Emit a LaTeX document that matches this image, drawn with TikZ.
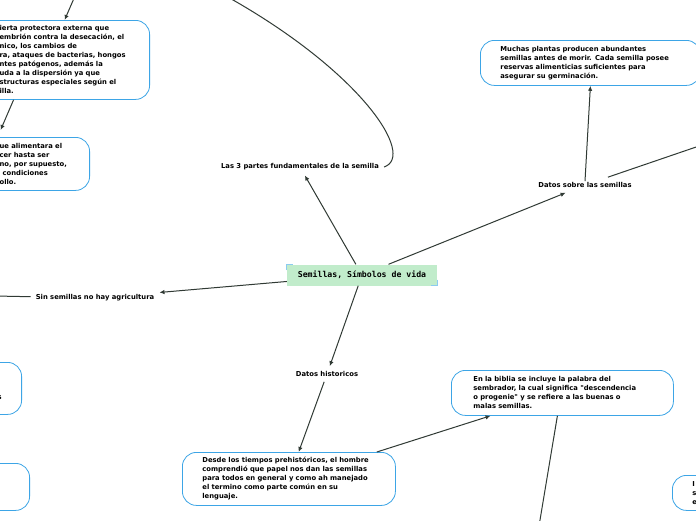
\documentclass[tikz,border=0pt]{standalone}
\usepackage{fontspec}
\setmainfont{DejaVu Sans}[Ligatures=TeXOff]
\newfontfamily\monofont{DejaVu Sans Mono}
\usepackage{xcolor}
\usetikzlibrary{arrows.meta}
\definecolor{boxblue}{HTML}{3DA5E6}
\definecolor{markblue}{HTML}{8CCBF0}
\definecolor{linkgray}{HTML}{303A34}
\definecolor{rootgreen}{HTML}{C1ECCB}

\begin{document}
\begin{tikzpicture}[
  x=1pt,y=-1pt,
  font=\bfseries\fontsize{6.8}{9}\selectfont,
  box/.style={draw=boxblue,line width=0.8pt,rounded corners=14pt,align=left,inner xsep=20pt,inner ysep=3pt},
  topic/.style={inner sep=5pt},
  root/.style={fill=rootgreen,minimum width=150pt,minimum height=21pt,font=\monofont\bfseries\fontsize{8.2}{10}\selectfont},
  arrow/.style={-{Latex[length=5pt,width=4.5pt]},linkgray,line width=1pt},
  link/.style={linkgray,line width=1pt}
]
\clip (0,0) rectangle (696,520);
\fill[white] (0,0) rectangle (696,520);

% central idea
\node[root] (semillas) at (362,275) {Semillas, Símbolos de vida};
\draw[markblue,line width=1pt] ([yshift=-6pt]semillas.north west) -- (semillas.north west) -- ([xshift=6pt]semillas.north west);
\draw[markblue,line width=1pt] ([yshift=6pt]semillas.south east) -- (semillas.south east) -- ([xshift=-6pt]semillas.south east);

% main topics
\node[topic] (partes) at (300,167) {Las 3 partes fundamentales de la semilla};
\node[topic] (datos) at (585,185) {Datos sobre las semillas};
\node[topic] (sinsem) at (95,298) {Sin semillas no hay agricultura};
\node[topic] (historicos) at (327,374) {Datos historicos};

% boxes
\node[box,anchor=north east,text width=130pt,minimum height=79pt] (cubierta) at (150,20)
  {ierta protectora externa que\\embrión contra la desecación, el\\nico, los cambios de\\ra, ataques de bacterias, hongos\\ntes patógenos, además la\\uda a la dispersión ya que\\structuras especiales según el\\illa.};
\node[box,anchor=north east,text width=70pt,minimum height=53pt] (alimento) at (90,137)
  {ue alimentara el\\cer hasta ser\\no, por supuesto,\\\hspace*{3pt}condiciones\\ollo.};
\node[box,anchor=north west,text width=180pt,minimum height=45pt] (muchas) at (480,40)
  {Muchas plantas producen abundantes\\semillas antes de morir. Cada semilla posee\\reservas alimenticias suficientes para\\asegurar su germinación.};
\node[box,anchor=north west,text width=178pt,inner xsep=22pt,minimum height=45pt] (biblia) at (451,370)
  {En la biblia se incluye la palabra del\\sembrador, la cual significa "descendencia\\o progenie" y se refiere a las buenas o\\malas semillas.};
\node[box,anchor=north west,text width=173pt,minimum height=53pt] (desde) at (182,452)
  {Desde los tiempos prehistóricos, el hombre\\comprendió que papel nos dan las semillas\\para todos en general y como ah manejado\\el termino como parte común en su\\lenguaje.};
\node[box,anchor=north east,text width=40pt,align=right,minimum height=52pt] (izq) at (22,362)
  {\phantom{s}\\\phantom{s}\\s};
\node[box,anchor=north east,minimum width=80pt,minimum height=47pt] (izqb) at (30,463) {};
\node[box,anchor=north west,text width=40pt,minimum height=35pt] (der) at (672,475)
  {I\\s\\e};

% loose ends
\coordinate (arriba) at (226,-4);
\coordinate (arribaizq) at (75,-4);
\coordinate (derecha) at (702,145);
\coordinate (izquierda) at (-5,296);
\coordinate (abajo) at (539,526);

% connectors
\draw[arrow] (semillas) -- (partes);
\draw[arrow] (semillas) -- (datos);
\draw[arrow] (semillas) -- (sinsem);
\draw[arrow] (semillas) -- (historicos);
\draw[link] (partes.east) .. controls (416,156) and (362,72) .. (arriba);
\draw[arrow] (arribaizq) -- (cubierta.north);
\draw[arrow] ([xshift=-51pt]cubierta.south) -- ([shift={(-34pt,7pt)}]alimento.north);
\draw[arrow] ([yshift=-4pt]datos.north) -- (muchas.south);
\draw[link] (datos) -- (derecha);
\draw[link] (sinsem) -- (izquierda);
\draw[arrow] (historicos) -- (desde);
\draw[arrow] ([xshift=-19pt]desde.north east) -- (biblia);
\draw[link] ([xshift=-5pt]biblia.south) -- (abajo);
\end{tikzpicture}
\end{document}
